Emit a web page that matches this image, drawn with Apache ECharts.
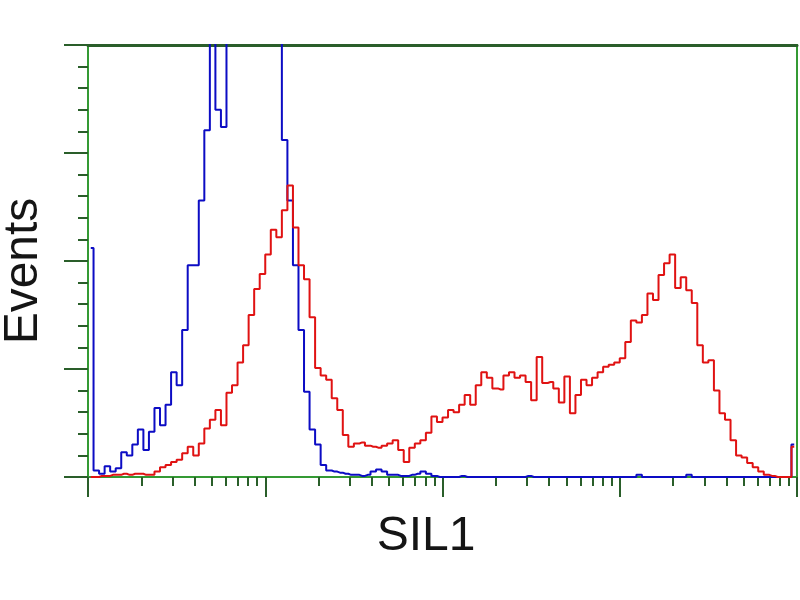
<!DOCTYPE html>
<html>
<head>
<meta charset="utf-8">
<script src="https://cdn.jsdelivr.net/npm/echarts@6/dist/echarts.min.js"></script>
<style>html,body{margin:0;padding:0;background:#fff;}#c{width:800px;height:600px;}</style>
</head>
<body>
<div id="c"></div>
<script>
// Histogram: 256 channels over 4 log decades, 128 bins of 2 channels each
const channelsPerDecade = 64;
const decades = [0, 1, 2, 3, 4];
const binWidth = 2;
const xAxisName = 'SIL1';
const yAxisName = 'Events';

const redCounts = [0,0,1,1,2,2,3,2,3,3,2,2,5,9,11,14,16,22,28,20,31,45,53,62,48,78,85,106,122,150,174,188,206,229,222,247,270,231,196,183,148,101,94,90,73,62,39,28,31,32,29,28,27,29,31,34,25,14,27,31,34,41,56,51,55,62,60,67,76,67,85,97,92,82,81,94,97,92,94,88,71,111,87,88,82,69,93,59,76,90,85,92,97,102,104,106,110,125,145,143,150,170,164,187,198,206,175,185,173,161,122,106,108,80,59,53,34,20,18,13,9,5,2,1,0,0,0,28];

const blueCounts = [212,6,3,10,5,8,23,20,30,44,25,42,64,48,67,97,85,136,196,196,256,321,440,340,324,480,520,560,600,620,640,600,560,540,500,312,256,196,136,79,44,30,11,6,5,4,3,2,2,1,2,5,7,5,2,2,1,1,2,3,5,3,1,0,0,0,0,1,0,0,0,0,0,0,0,0,0,0,0,1,0,0,0,0,0,0,0,0,0,0,0,0,0,0,0,0,0,0,0,2,0,0,0,0,0,0,0,0,2,0,0,0,0,0,0,0,0,0,0,0,0,0,0,0,0,0,0,30];

const xMajorTicks = decades.map(d => d * channelsPerDecade);
const xMinorTicks = [];
decades.slice(0, -1).forEach(d => {
  for (let k = 2; k <= 9; k++) xMinorTicks.push(d * channelsPerDecade + channelsPerDecade * Math.log10(k));
});
const toData = arr => arr.map((v, i) => [binWidth * i + binWidth / 2, v]);

const green = '#349a34';
const darkGreen = '#2a5e2a';
const chart = echarts.init(document.getElementById('c'), null, {renderer: 'canvas'});
chart.setOption({
  backgroundColor: '#ffffff',
  animation: false,
  grid: {left: 88, right: 3, top: 45, bottom: 123, show: true, borderColor: green, borderWidth: 2, backgroundColor: 'transparent'},
  xAxis: [
    {type: 'value', min: 0, max: 256, position: 'bottom',
     axisLine: {show: true, onZero: false, lineStyle: {color: green, width: 2}},
     axisTick: {show: true, customValues: xMajorTicks, length: 20, lineStyle: {color: darkGreen, width: 2}},
     axisLabel: {show: false}, splitLine: {show: false}},
    {type: 'value', min: 0, max: 256, position: 'bottom',
     axisLine: {show: false},
     axisTick: {show: true, customValues: xMinorTicks, length: 9, lineStyle: {color: darkGreen, width: 2}},
     axisLabel: {show: false}, splitLine: {show: false}},
    {type: 'value', min: 0, max: 256, position: 'top',
     axisLine: {show: true, onZero: false, lineStyle: {color: darkGreen, width: 3}},
     axisTick: {show: false}, axisLabel: {show: false}, splitLine: {show: false}}
  ],
  yAxis: {type: 'value', min: 0, max: 400, interval: 100,
    axisLine: {show: true, onZero: false, lineStyle: {color: green, width: 2}},
    axisTick: {show: true, length: 24, lineStyle: {color: darkGreen, width: 2}},
    minorTick: {show: true, splitNumber: 5, length: 10, lineStyle: {color: darkGreen, width: 2}},
    axisLabel: {show: false}, splitLine: {show: false}},
  graphic: [
    {type: 'text', x: 426, y: 537, style: {text: xAxisName, font: '48px "Liberation Sans", Arial, sans-serif', fill: '#151515', align: 'center', verticalAlign: 'middle'}},
    {type: 'text', x: 24, y: 271, rotation: Math.PI / 2, style: {text: yAxisName, font: '48px "Liberation Sans", Arial, sans-serif', fill: '#151515', align: 'center', verticalAlign: 'middle'}}
  ],
  series: [
    {type: 'line', name: 'control', data: toData(blueCounts), step: 'middle', symbol: 'none', clip: true,
     lineStyle: {color: '#0c0cc4', width: 2}},
    {type: 'line', name: 'SIL1', data: toData(redCounts), step: 'middle', symbol: 'none', clip: true,
     lineStyle: {color: '#e01212', width: 2}}
  ]
});
</script>
</body>
</html>
